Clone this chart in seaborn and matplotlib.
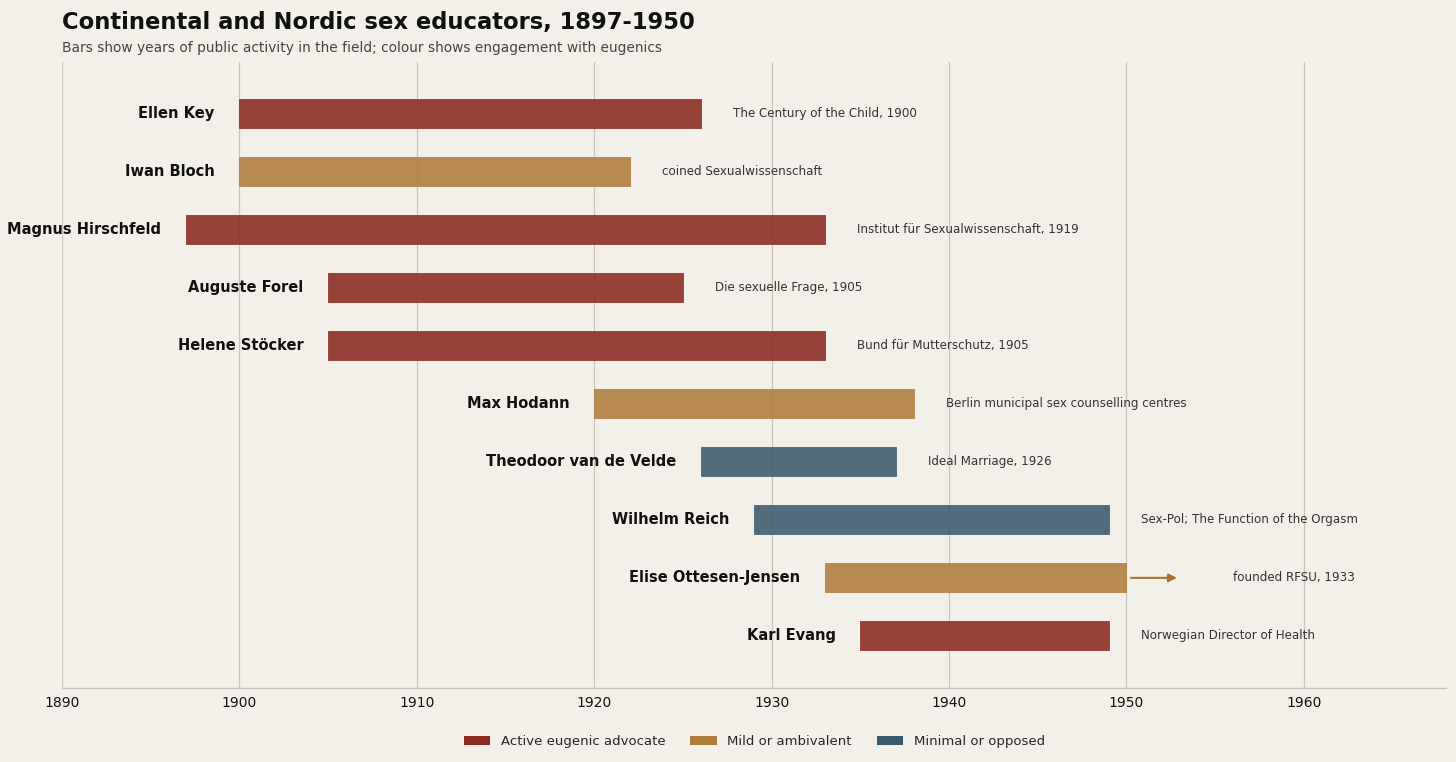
import matplotlib
matplotlib.use("Agg")
import matplotlib.pyplot as plt
from matplotlib.patches import Patch
import seaborn as sns

# data
names = ["Ellen Key", "Iwan Bloch", "Magnus Hirschfeld", "Auguste Forel",
         "Helene Stöcker", "Max Hodann", "Theodoor van de Velde",
         "Wilhelm Reich", "Elise Ottesen-Jensen", "Karl Evang"]
start_year = [1900, 1900, 1897, 1905, 1905, 1920, 1926, 1929, 1933, 1935]
end_year = [1926, 1922, 1933, 1925, 1933, 1938, 1937, 1949, 1950, 1949]
stance = ["Active eugenic advocate", "Mild or ambivalent", "Active eugenic advocate",
          "Active eugenic advocate", "Active eugenic advocate", "Mild or ambivalent",
          "Minimal or opposed", "Minimal or opposed", "Mild or ambivalent",
          "Active eugenic advocate"]
notes = ["The Century of the Child, 1900", "coined Sexualwissenschaft",
         "Institut für Sexualwissenschaft, 1919", "Die sexuelle Frage, 1905",
         "Bund für Mutterschutz, 1905", "Berlin municipal sex counselling centres",
         "Ideal Marriage, 1926", "Sex-Pol; The Function of the Orgasm",
         "founded RFSU, 1933", "Norwegian Director of Health"]
stance_order = ["Active eugenic advocate", "Mild or ambivalent", "Minimal or opposed"]

BG = "#F3F0E9"
colours = {"Active eugenic advocate": "#8B2A20",
           "Mild or ambivalent": "#AF7C3C",
           "Minimal or opposed": "#3B5A6E"}

sns.set_theme(style="white")
plt.rcParams["font.family"] = ["DejaVu Sans"]

fig, ax = plt.subplots(figsize=(14.56, 7.62), dpi=100)
fig.patch.set_facecolor(BG)
ax.set_facecolor(BG)
fig.subplots_adjust(left=0.0426, right=0.993, top=0.919, bottom=0.097)

palette = {n: colours[s] for n, s in zip(names, stance)}
sns.barplot(x=end_year, y=names, hue=names, palette=palette, orient="y",
            width=0.5, legend=False, saturation=1, alpha=0.88, ax=ax,
            edgecolor=None, linewidth=0.6)

# turn the full-length bars into start..end spans
for p in ax.patches:
    row = int(round(p.get_y() + p.get_height() / 2))
    p.set_x(start_year[row])
    p.set_width(end_year[row] - start_year[row])
    p.set_edgecolor(colours[stance[row]])

for i, n in enumerate(names):
    ax.text(start_year[i] - 1.4, i, n, ha="right", va="center",
            fontsize=10.5, fontweight="bold", color="#111111")
    if n == "Elise Ottesen-Jensen":
        ax.annotate("", xy=(1953, i), xytext=(1950.1, i),
                    arrowprops=dict(arrowstyle="-|>", color="#A8742F", lw=1.5,
                                    mutation_scale=12))
        ax.text(1956, i, notes[i], ha="left", va="center", fontsize=8.6, color="#333333")
    else:
        ax.text(end_year[i] + 1.8, i, notes[i], ha="left", va="center",
                fontsize=8.6, color="#333333")

ax.set_xlim(1890, 1968)
ax.set_ylim(9.9, -0.9)
ax.set_xticks(range(1890, 1961, 10))
ax.tick_params(axis="x", labelsize=10, colors="#111111", length=0, pad=6)
ax.set_yticks([])
ax.set_xlabel("")
ax.set_ylabel("")
ax.grid(axis="x", color="#CBC5BA", linewidth=0.9)
ax.set_axisbelow(True)
for side in ["left", "right", "top"]:
    ax.spines[side].set_visible(False)
ax.spines["bottom"].set_color("#C8C2B8")
ax.spines["bottom"].set_linewidth(1.0)

fig.text(0.0426, 0.986, "Continental and Nordic sex educators, 1897-1950",
         ha="left", va="top", fontsize=16.3, fontweight="bold", color="#111111")
fig.text(0.0426, 0.937, "Bars show years of public activity in the field; colour shows engagement with eugenics",
         ha="left", va="center", fontsize=9.9, color="#444444")

handles = [Patch(facecolor=colours[s], edgecolor="none", label=s) for s in stance_order]
ax.legend(handles=handles, loc="center", bbox_to_anchor=(0.518, 0.027),
          bbox_transform=fig.transFigure, ncol=3, frameon=False, fontsize=9.5,
          handlelength=2, handleheight=0.7, columnspacing=1.9)

plt.savefig("out.png", dpi=100, facecolor=BG)
